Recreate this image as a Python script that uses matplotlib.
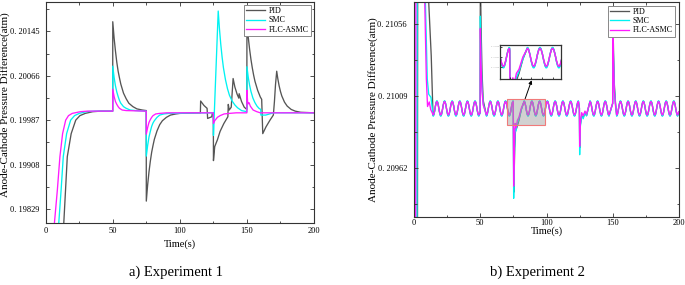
import matplotlib
matplotlib.use("Agg")
import matplotlib.pyplot as plt
from matplotlib.ticker import FixedLocator, FuncFormatter, MultipleLocator, AutoMinorLocator
from matplotlib.patches import Rectangle, PathPatch
from matplotlib.path import Path
from matplotlib.lines import Line2D

plt.rcParams['font.family'] = ['Liberation Serif', 'DejaVu Serif']

# ---------------- data: Experiment 1 ----------------
series_names = ["PID", "SMC", "FLC-ASMC"]

pid1_t = [12.6, 13.6, 14.8, 16.1, 19.0, 22.4, 25.5, 29.5, 35.0, 41.0, 49.95,
          50.0, 51, 52, 53, 54, 55, 56, 58, 60, 62, 65, 68, 72, 74.95,
          75.0, 76, 77, 78, 79, 80, 81, 83, 85, 87, 90, 93, 97, 100, 115.3,
          115.5, 118.0, 120.3, 120.7, 123.8, 124.2, 124.95,
          125.05, 126.0, 128.0, 130.0, 132.8, 135.8, 136.1, 136.8, 138.3, 139.7, 141.0, 142.7,
          144.0, 144.2, 146.0, 148.0, 149.95,
          150.0, 151, 152, 153, 154, 155, 156, 157, 158, 159, 160, 161.0,
          161.8, 164.2, 167.2, 169.7, 170.5, 171.3, 172.2, 173, 174, 175, 176, 178, 180,
          183, 186, 190, 200]
pid1_v = [0.19765, 0.19809, 0.19863, 0.19922, 0.19963, 0.19987, 0.19995, 0.19999, 0.20002, 0.20003, 0.20003,
          0.20162, 0.20133, 0.20110, 0.20090, 0.20074, 0.20062, 0.20051, 0.20035, 0.20025, 0.20017,
          0.20011, 0.20007, 0.20005, 0.20004,
          0.19843, 0.19872, 0.19895, 0.19914, 0.19930, 0.19942, 0.19953, 0.19968, 0.19979, 0.19986,
          0.19992, 0.19996, 0.19998, 0.19999, 0.20000,
          0.20021, 0.20013, 0.20008, 0.19990, 0.19993, 0.19999, 0.19999,
          0.19915, 0.19940, 0.19952, 0.19967, 0.19981, 0.19993, 0.20015, 0.20005, 0.20010, 0.20061,
          0.20046, 0.20033, 0.20026, 0.20034, 0.20020, 0.20010, 0.20006,
          0.20159, 0.20134, 0.20113, 0.20095, 0.20080, 0.20067, 0.20056, 0.20048, 0.20040, 0.20034,
          0.20028, 0.20024,
          0.19963, 0.19975, 0.19987, 0.19996, 0.20020, 0.20050, 0.20074, 0.20061, 0.20048, 0.20038,
          0.20030, 0.20019, 0.20012, 0.20006, 0.20003, 0.20001, 0.20000]

smc1_t = [8.6, 9.9, 11.5, 13.1, 15.6, 18.6, 21.5, 25.0, 30.0, 36.0, 49.95,
          50.0, 51, 52, 53, 54, 55, 56, 58, 60, 63, 67, 74.95,
          75.0, 76, 77, 78, 79, 80, 81, 83, 85, 88, 92, 124.95,
          125.05, 128.6, 129.5, 130.5, 131.5, 132.5, 134.0, 135.5, 137.0, 139.0, 141.0, 143.0, 146.0, 149.95,
          150.0, 151, 152, 153, 154.5, 156, 157.5, 159, 160.3, 160.4, 164.0, 169.7, 200]
smc1_v = [0.19765, 0.19809, 0.19863, 0.19922, 0.19963, 0.19987, 0.19995, 0.19999, 0.20002, 0.20003, 0.20003,
          0.20083, 0.20063, 0.20048, 0.20037, 0.20029, 0.20022, 0.20017, 0.20011, 0.20008, 0.20005,
          0.20004, 0.20003,
          0.19923, 0.19942, 0.19957, 0.19967, 0.19976, 0.19982, 0.19986, 0.19992, 0.19996, 0.19998,
          0.19999, 0.20000,
          0.19960, 0.20181, 0.20150, 0.20122, 0.20099, 0.20080, 0.20059, 0.20043, 0.20031, 0.20021,
          0.20014, 0.20009, 0.20004, 0.20002,
          0.20082, 0.20063, 0.20049, 0.20038, 0.20026, 0.20018, 0.20012, 0.20008, 0.20006, 0.19996,
          0.19996, 0.20000, 0.20000]

flc1_t = [5.0, 6.7, 8.7, 10.6, 12.6, 14.9, 17.0, 19.8, 25.8, 31.0, 49.95,
          50.0, 51, 52, 53, 54, 55, 57, 60, 74.95,
          75.0, 76, 77, 78, 79, 80, 82, 85, 90, 124.95,
          125.05, 126, 127, 128, 130, 133, 137, 142, 149.95,
          150.0, 150.5, 151.0, 151.6, 152.5, 154.6, 157.4, 160, 200]
flc1_v = [0.19765, 0.19809, 0.19863, 0.19922, 0.19963, 0.19987, 0.19995, 0.19999, 0.20002, 0.20003, 0.20003,
          0.20042, 0.20029, 0.20020, 0.20015, 0.20011, 0.20008, 0.20005, 0.20004, 0.20003,
          0.19962, 0.19974, 0.19983, 0.19988, 0.19992, 0.19995, 0.19998, 0.19999, 0.20000, 0.20000,
          0.19981, 0.19986, 0.19989, 0.19992, 0.19995, 0.19998, 0.19999, 0.20000, 0.20000,
          0.20040, 0.20020, 0.20016, 0.20018, 0.20012, 0.20005, 0.20002, 0.20000, 0.20000]

yticks1 = [0.19829, 0.19908, 0.19987, 0.20066, 0.20145]

# ---------------- data: Experiment 2 ----------------
# times of the steady oscillation extremes
peak_t = [17.3, 23.05, 28.8, 34.55, 40.3, 46.05, 51.8, 57.55, 63.3, 69.05, 74.8,
          83.1, 88.95, 94.8, 100.65, 106.5, 112.35, 118.2, 124.05,
          132.8, 138.55, 144.3, 150.05, 155.8, 161.55, 167.3, 173.05, 178.8, 184.55, 190.3, 196.05]
trough_t = [14.45, 20.18, 25.93, 31.68, 37.43, 43.18, 48.93, 54.68, 60.43, 66.18, 71.93,
            86.03, 91.88, 97.73, 103.58, 109.43, 115.28, 121.13,
            135.68, 141.43, 147.18, 152.93, 158.68, 164.43, 170.18, 175.93, 181.68, 187.43, 193.18, 198.93]
# peak / trough levels per series (PID, SMC, FLC-ASMC)
peak_v = [0.210054, 0.210057, 0.210052]
trough_v = [0.209961, 0.209957, 0.209965]
# time spans of the disturbances (oscillation extremes inside them are replaced)
event_spans = [(0.0, 14.3), (49.85, 52.3), (74.85, 81.1), (124.5, 130.3), (149.85, 152.1)]

pid2_t = [0, 2.6, 2.9, 8.0, 11.1, 13.0, 14.2,
          49.9, 50.05, 50.6, 51.3, 52.2,
          74.9, 75.3, 76.0, 76.6, 77.5, 79.2, 81.0,
          124.8, 125.05, 125.5, 126.5, 127.7, 129.0, 130.2,
          149.9, 150.1, 150.6, 151.2, 152.0, 200.0]
pid2_v = [0.2090, 0.2090, 0.2125, 0.2113, 0.21070, 0.21035, 0.21000,
          0.20998, 0.21090, 0.21055, 0.21025, 0.21006,
          0.21004, 0.20946, 0.20975, 0.20987, 0.20988, 0.20993, 0.21000,
          0.21001, 0.20975, 0.20990, 0.20996, 0.20995, 0.20998, 0.20996,
          0.21004, 0.21059, 0.21036, 0.21016, 0.21005, 0.20999]

smc2_t = [0, 2.2, 2.5, 6.0, 8.6, 10.0, 11.1, 12.8,
          49.9, 50.05, 50.6, 51.3, 52.2,
          74.9, 75.2, 75.8, 76.4, 77.0, 78.0, 79.2, 81.0,
          124.8, 125.0, 125.4, 126.5, 127.7, 129.0, 130.2,
          149.9, 150.1, 150.6, 151.2, 152.0, 200.0]
smc2_v = [0.2090, 0.2090, 0.2120, 0.2112, 0.21070, 0.21020, 0.21010, 0.21008,
          0.20998, 0.21061, 0.21035, 0.21015, 0.21004,
          0.21004, 0.20942, 0.20972, 0.20988, 0.20986, 0.20991, 0.20994, 0.21000,
          0.21001, 0.209705, 0.20988, 0.20996, 0.20994, 0.20998, 0.20996,
          0.21004, 0.21052, 0.21032, 0.21014, 0.21004, 0.20999]

flc2_t = [0, 1.2, 1.5, 5.0, 8.1, 9.3, 10.2, 11.5, 12.6,
          49.9, 50.05, 50.6, 51.3, 52.2,
          74.9, 75.2, 75.7, 76.3, 77.0, 78.0, 79.2, 81.0,
          124.8, 125.0, 125.4, 126.5, 127.7, 129.0, 130.2,
          149.9, 150.1, 150.6, 151.2, 152.0, 200.0]
flc2_v = [0.2090, 0.2090, 0.2120, 0.2113, 0.21070, 0.21020, 0.21002, 0.21005, 0.21000,
          0.20998, 0.21053, 0.21030, 0.21012, 0.21003,
          0.21004, 0.20950, 0.20975, 0.20991, 0.20988, 0.20993, 0.20995, 0.21001,
          0.21001, 0.20976, 0.20990, 0.20998, 0.20996, 0.20999, 0.20997,
          0.21004, 0.21050, 0.21030, 0.21012, 0.21003, 0.20999]

yticks2 = [0.20962, 0.21009, 0.21056]
inset_xlim = [70.4, 98.6]
inset_ylim = [0.209901, 0.210069]
inset_yticks = [0.20996, 0.21001, 0.21006]

# ---------------- styling ----------------
colors = ['#555555', '#00f2f2', '#ff1aff']
lw = 0.95


def merge(i, tr_t, tr_v):
    pts = [(a, b, False) for a, b in zip(tr_t, tr_v)]
    for t in peak_t:
        if not any(a <= t <= b for a, b in event_spans):
            pts.append((t, peak_v[i], True))
    for t in trough_t:
        if not any(a <= t <= b for a, b in event_spans):
            pts.append((t, trough_v[i], True))
    pts.sort()
    return [p[0] for p in pts], [p[1] for p in pts], [p[2] for p in pts]


def wave_path(t, v, ext):
    # straight segments for transients, smooth (horizontal-tangent) curves between extremes
    verts = [(t[0], v[0])]
    codes = [Path.MOVETO]
    for k in range(1, len(t)):
        if ext[k - 1] and ext[k]:
            d = t[k] - t[k - 1]
            verts += [(t[k - 1] + 0.364 * d, v[k - 1]), (t[k] - 0.364 * d, v[k]), (t[k], v[k])]
            codes += [Path.CURVE4] * 3
        else:
            verts.append((t[k], v[k]))
            codes.append(Path.LINETO)
    return Path(verts, codes)


fmt = FuncFormatter(lambda v, p: f"{v:.5f}".replace(".", ". "))


def style(ax, yt, ylim):
    ax.set_xlim(0, 200)
    ax.set_ylim(*ylim)
    ax.xaxis.set_major_locator(MultipleLocator(50))
    ax.xaxis.set_minor_locator(MultipleLocator(25))
    ax.yaxis.set_major_locator(FixedLocator(yt))
    ax.yaxis.set_minor_locator(AutoMinorLocator(2))
    ax.yaxis.set_major_formatter(fmt)
    ax.tick_params(which='both', direction='in', top=True, right=True,
                   labelsize=6, width=0.6, color='#333333')
    ax.tick_params(which='major', length=3)
    ax.tick_params(which='minor', length=1.8)
    ax.tick_params(axis='y', pad=4.5)
    for s in ax.spines.values():
        s.set_linewidth(0.8)
        s.set_color('#333333')


legend_kw = dict(loc='upper right', fontsize=5.8, fancybox=False, edgecolor='#888888',
                 framealpha=1, handlelength=2.3, labelspacing=0.15,
                 borderpad=0.3, handletextpad=0.5)

fig = plt.figure(figsize=(6.85, 2.85), dpi=100)

# ---- Experiment 1 ----
ax1 = fig.add_axes([0.0667, 0.2186, 0.3917, 0.7744])
for (t, v), c, n in zip([(pid1_t, pid1_v), (smc1_t, smc1_v), (flc1_t, flc1_v)], colors, series_names):
    ax1.plot(t, v, color=c, lw=lw, label=n)
style(ax1, yticks1, (0.198046, 0.201971))
ax1.tick_params(axis='x', pad=3)
ax1.set_xlabel('Time(s)', fontsize=7.5)
ax1.xaxis.set_label_coords(0.5, -0.075)
ax1.set_ylabel('Anode-Cathode Pressure Difference(atm)', fontsize=8)
ax1.yaxis.set_label_coords(-0.133, 0.533)
leg1 = ax1.legend(borderaxespad=0.35, **legend_kw)
leg1.get_frame().set_linewidth(0.7)

# ---- Experiment 2 ----
ax2 = fig.add_axes([0.6044, 0.2386, 0.3869, 0.7544])
built = [merge(0, pid2_t, pid2_v), merge(1, smc2_t, smc2_v), merge(2, flc2_t, flc2_v)]
for (t, v, e), c in zip(built, colors):
    ax2.add_patch(PathPatch(wave_path(t, v, e), facecolor='none', edgecolor=c, lw=lw,
                            capstyle='butt', joinstyle='round'))
style(ax2, yticks2, (0.209298, 0.210703))
ax2.tick_params(axis='x', pad=1.5)
ax2.tick_params(axis='y', pad=5)
ax2.set_xlabel('Time(s)', fontsize=7.5)
ax2.xaxis.set_label_coords(0.5, -0.042)
ax2.set_ylabel('Anode-Cathode Pressure Difference(atm)', fontsize=8)
ax2.yaxis.set_label_coords(-0.136, 0.5)
handles = [Line2D([], [], color=c, lw=lw, label=n) for c, n in zip(colors, series_names)]
leg2 = ax2.legend(handles=handles, borderaxespad=0.45, **legend_kw)
leg2.get_frame().set_linewidth(0.7)

ax2.add_patch(Rectangle((inset_xlim[0], inset_ylim[0]), inset_xlim[1] - inset_xlim[0],
                        inset_ylim[1] - inset_ylim[0], facecolor='#9a9a9a', alpha=0.45,
                        edgecolor='none', zorder=3))
ax2.add_patch(Rectangle((inset_xlim[0], inset_ylim[0]), inset_xlim[1] - inset_xlim[0],
                        inset_ylim[1] - inset_ylim[0], facecolor='none',
                        edgecolor='#f07a7a', lw=0.8, zorder=4))

axins = fig.add_axes([0.730, 0.7218, 0.0886, 0.1204])
for (t, v, e), c in zip(built, colors):
    axins.add_patch(PathPatch(wave_path(t, v, e), facecolor='none', edgecolor=c, lw=1.0))
axins.set_xlim(*inset_xlim)
axins.set_ylim(*inset_ylim)
axins.xaxis.set_major_locator(MultipleLocator(5))
axins.yaxis.set_major_locator(FixedLocator(inset_yticks))
axins.yaxis.set_major_formatter(fmt)
axins.tick_params(which='both', direction='in', length=1.5, width=0.5, labelsize=1.6,
                  labelcolor='#999999', labelbottom=False, pad=1)
for s in axins.spines.values():
    s.set_linewidth(0.9)
    s.set_color('#333333')

ax2.annotate('', xy=(0.52, -0.03), xycoords=axins.transAxes,
             xytext=(83.8, inset_ylim[1]), textcoords='data',
             arrowprops=dict(arrowstyle='-|>', color='black', lw=0.7, mutation_scale=5,
                             shrinkA=0, shrinkB=0))

fig.text(176 / 685, 1 - 272 / 285, 'a) Experiment 1', ha='center', va='center', fontsize=10.5)
fig.text(537 / 685, 1 - 272 / 285, 'b) Experiment 2', ha='center', va='center', fontsize=10.5)

fig.savefig('out.png', dpi=100)
